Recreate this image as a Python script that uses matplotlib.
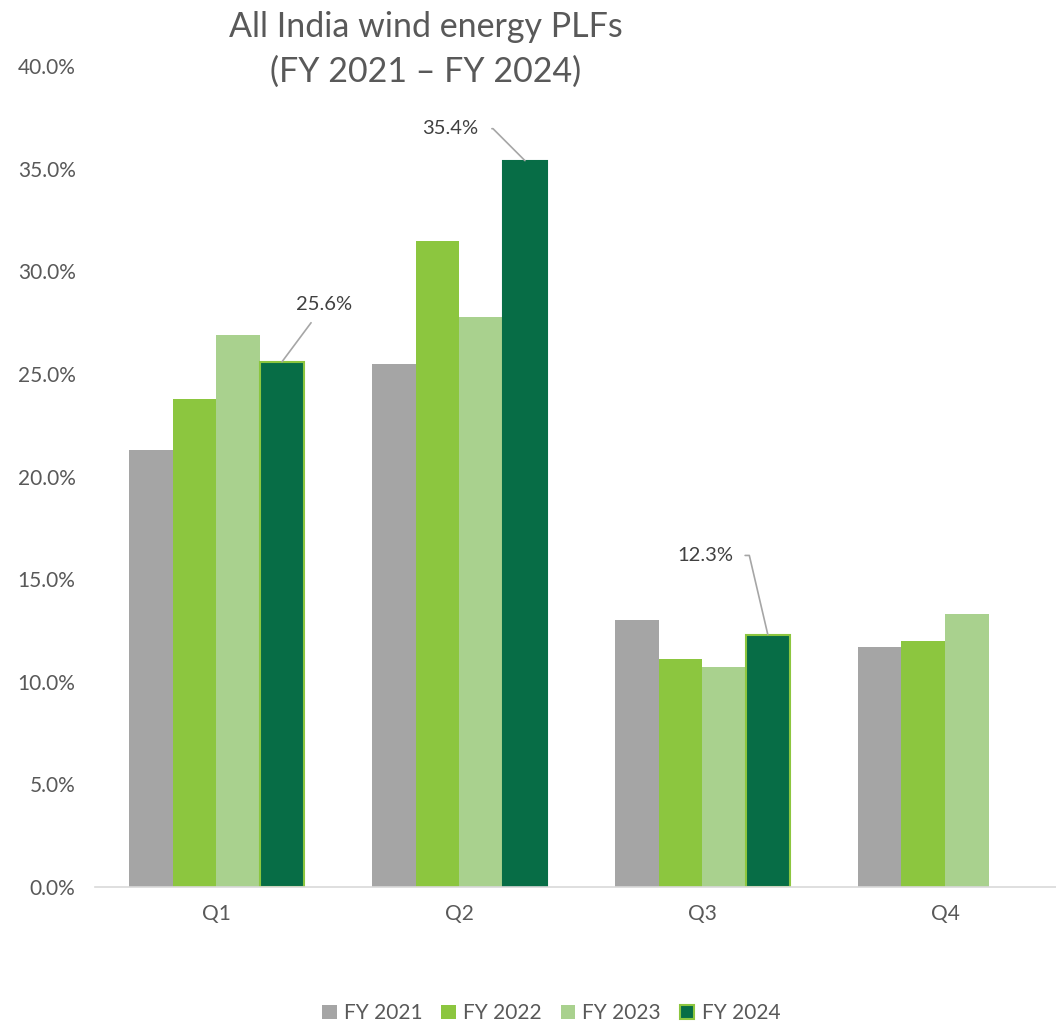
import numpy as np
import matplotlib.pyplot as plt

plt.rcParams['font.family'] = ['Lato', 'DejaVu Sans']

# data (PLF in %)
quarters = ['Q1', 'Q2', 'Q3', 'Q4']
series = ['FY 2021', 'FY 2022', 'FY 2023', 'FY 2024']
fy2021 = [21.3, 25.5, 13.0, 11.7]
fy2022 = [23.8, 31.5, 11.1, 12.0]
fy2023 = [26.9, 27.8, 10.7, 13.3]
fy2024 = [25.6, 35.4, 12.3, np.nan]

colors = ['#A5A5A5', '#8CC63F', '#A9D18E', '#076D46']
text_col = '#595959'

fig = plt.figure(figsize=(10.56, 10.35), dpi=100)
ax = fig.add_axes([0.09, 0.143, 0.92, 0.793])

x = np.arange(len(quarters))
w = 0.18
values = [fy2021, fy2022, fy2023, fy2024]
for i, (name, vals) in enumerate(zip(series, values)):
    off = (i - 1.5) * w
    if name == 'FY 2024':
        b = ax.bar(x + off, vals, w, color=colors[i], edgecolor='#8CC63F',
                   linewidth=1.5, label=name)
        # the Q2 bar has no lime outline
        b[1].set_edgecolor(colors[i])
    else:
        ax.bar(x + off, vals, w, color=colors[i], label=name)

# labels on the FY 2024 bars, with leader lines
label_opts = [
    dict(xytext=(30, 41), conn='arc3,rad=0', relpos=(0.4, 0.0), shrinkA=6),
    dict(xytext=(-54, 23), conn='arc,angleA=0,armA=15,angleB=0,armB=0,rad=0',
         relpos=(1.0, 0.5), shrinkA=8),
    dict(xytext=(-45, 57), conn='arc,angleA=0,armA=16,angleB=0,armB=0,rad=0',
         relpos=(1.0, 0.5), shrinkA=6.5),
]
for qi, o in enumerate(label_opts):
    v = fy2024[qi]
    ax.annotate(f'{v:.1f}%', xy=(x[qi] + 1.5 * w, v), xytext=o['xytext'],
                textcoords='offset points', ha='center', va='center',
                fontsize=14.5, color='#404040',
                arrowprops=dict(arrowstyle='-', color='#A6A6A6', lw=1.2,
                                connectionstyle=o['conn'], relpos=o['relpos'],
                                shrinkA=o['shrinkA'], shrinkB=0))

ax.set_xlim(-0.5, 3.5)
ax.set_ylim(0, 40)
ax.set_xticks(x)
ax.set_xticklabels(quarters)
ax.set_yticks(np.arange(0, 41, 5))
ax.set_yticklabels([f'{t:.1f}%' for t in np.arange(0, 41, 5)])
ax.tick_params(axis='both', length=0, labelsize=15, labelcolor=text_col)
ax.tick_params(axis='y', pad=14)
ax.tick_params(axis='x', pad=12)
for s in ['top', 'right', 'left']:
    ax.spines[s].set_visible(False)
ax.spines['bottom'].set_color('#D9D9D9')
ax.spines['bottom'].set_linewidth(1.2)

fig.text(0.403, 0.952, 'All India wind energy PLFs\n(FY 2021 \u2013 FY 2024)',
         ha='center', va='center', fontsize=24.5, color=text_col, linespacing=1.5)

fig.legend(loc='lower center', bbox_to_anchor=(0.522, -0.007), ncol=4,
           frameon=False, fontsize=15, handlelength=0.7, handleheight=0.7,
           columnspacing=0.9, handletextpad=0.35, labelcolor=text_col)

fig.savefig('out.png', dpi=100)
